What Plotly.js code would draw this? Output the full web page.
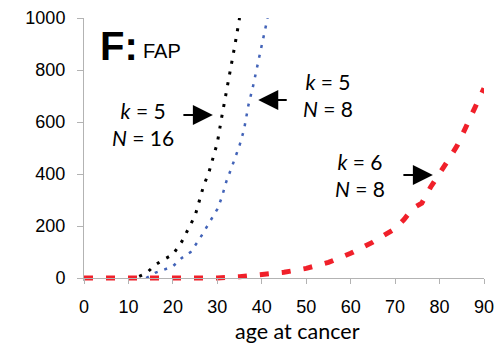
<!DOCTYPE html>
<html>
<head>
<meta charset="utf-8">
<script src="https://cdn.plot.ly/plotly-3.0.1.min.js"></script>
<style>html,body{margin:0;padding:0;background:#fff;}#chart{width:500px;height:345px;}</style>
</head>
<body>
<div id="chart"></div>
<script>
// k = 5, N = 16 (black dotted)
const ageK5N16 = [10, 12, 14, 16, 18, 20, 22, 24, 25, 26, 27, 28, 29, 30, 31, 32, 33, 34, 35];
const valK5N16 = [0, 3, 18, 50, 72, 90, 140, 205, 240, 300, 360, 400, 460, 520, 620, 710, 810, 900, 1000];
// k = 5, N = 8 (blue dotted)
const ageK5N8 = [14, 16, 18, 20, 22, 24, 26, 28, 30, 31, 32, 33, 34, 35, 36, 37, 38, 39, 40, 41, 41.3];
const valK5N8 = [0, 20, 32, 45, 77, 100, 150, 210, 265, 310, 370, 415, 460, 510, 570, 665, 735, 815, 890, 975, 1000];
// k = 6, N = 8 (red dashed)
const ageK6N8 = [0, 5, 10, 15, 20, 25, 30, 35, 40, 45, 50, 55, 60, 65, 70, 72, 74, 76, 78, 80, 82, 84, 86, 88, 90];
const valK6N8 = [0, 0, 0, 0, 0, 0, 0, 5, 12, 22, 37, 60, 95, 138, 190, 225, 268, 288, 350, 400, 455, 510, 580, 650, 730];

const xTicks = [0, 10, 20, 30, 40, 50, 60, 70, 80, 90];
const yTicks = [0, 200, 400, 600, 800, 1000];

const L = 84, R = 16, T = 18, B = 64, W = 500, H = 345;
const pw = W - L - R, ph = H - T - B;
const px = v => (v - L) / pw;
const py = v => (H - B - v) / ph;

const tickFont = {family: 'Liberation Sans, Arial, sans-serif', size: 18, color: '#000'};
const calFont = {family: 'Lato, "Open Sans", sans-serif', size: 21, color: '#000'};

const traces = [
  {x: ageK5N16, y: valK5N16, mode: 'lines', line: {color: '#000000', width: 3, dash: '3px,8px'}, hoverinfo: 'skip'},
  {x: ageK5N8, y: valK5N8, mode: 'lines', line: {color: '#4263b8', width: 2.5, dash: '3px,7px'}, hoverinfo: 'skip'},
  {x: ageK6N8, y: valK6N8, mode: 'lines', line: {color: '#f0202a', width: 5, dash: '9px,13px'}, hoverinfo: 'skip'}
];

const annotations = [
  {xref: 'paper', yref: 'paper', x: px(98), y: py(46), xanchor: 'left', yanchor: 'middle', text: '<b>F:</b>', showarrow: false, font: {family: '"Liberation Sans Narrow", "Liberation Sans", Arial, sans-serif', size: 40, color: '#000'}},
  {xref: 'paper', yref: 'paper', x: px(141), y: py(51), xanchor: 'left', yanchor: 'middle', text: 'FAP', showarrow: false, font: {family: 'Liberation Sans, Arial, sans-serif', size: 20, color: '#000'}},
  {xref: 'paper', yref: 'paper', x: px(143), y: py(124), xanchor: 'center', yanchor: 'middle', text: '<i>k</i> = 5<br><i>N</i> = 16', showarrow: false, font: calFont},
  {xref: 'paper', yref: 'paper', x: px(328), y: py(95), xanchor: 'center', yanchor: 'middle', text: '<i>k</i> = 5<br><i>N</i> = 8', showarrow: false, font: calFont},
  {xref: 'paper', yref: 'paper', x: px(360), y: py(175), xanchor: 'center', yanchor: 'middle', text: '<i>k</i> = 6<br><i>N</i> = 8', showarrow: false, font: calFont},
  {xref: 'paper', yref: 'paper', x: px(297), y: py(345), xanchor: 'center', yanchor: 'bottom', borderpad: 0, text: 'age at cancer', showarrow: false, font: {family: 'Lato, "Open Sans", sans-serif', size: 21.5, color: '#000'}},
  {xref: 'x', yref: 'y', x: 29.0, y: 627, ax: -31, ay: 0, text: '', showarrow: true, arrowhead: 2, arrowsize: 2, arrowwidth: 2, arrowcolor: '#000', standoff: 0},
  {xref: 'x', yref: 'y', x: 39.2, y: 685, ax: 30, ay: 0, text: '', showarrow: true, arrowhead: 2, arrowsize: 2, arrowwidth: 2, arrowcolor: '#000', standoff: 0},
  {xref: 'x', yref: 'y', x: 78.5, y: 396, ax: -31, ay: 0, text: '', showarrow: true, arrowhead: 2, arrowsize: 2, arrowwidth: 2, arrowcolor: '#000', standoff: 0}
];

const yMin = -11.5;
const layout = {
  width: W, height: H,
  margin: {l: L, r: R, t: T, b: B, pad: 0},
  paper_bgcolor: '#fff', plot_bgcolor: '#fff',
  showlegend: false,
  xaxis: {
    range: [0, 90], tickvals: xTicks, ticktext: xTicks.map(String),
    showgrid: false, zeroline: false, showline: true, linecolor: '#b3b3b3', linewidth: 1,
    ticks: 'outside', ticklen: 5, tickcolor: '#b3b3b3', tickfont: tickFont,
    anchor: 'free', position: (-yMin) / (1000 - yMin), ticklabelstandoff: 7
  },
  yaxis: {
    range: [yMin, 1000], tickvals: yTicks, ticktext: yTicks.map(String),
    showgrid: false, zeroline: false, showline: true, linecolor: '#b3b3b3', linewidth: 1,
    ticks: 'outside', ticklen: 6, tickcolor: '#b3b3b3', tickfont: tickFont, ticklabelstandoff: 8
  },
  annotations: annotations
};

Plotly.newPlot('chart', traces, layout, {staticPlot: true, displayModeBar: false});
</script>
</body>
</html>
